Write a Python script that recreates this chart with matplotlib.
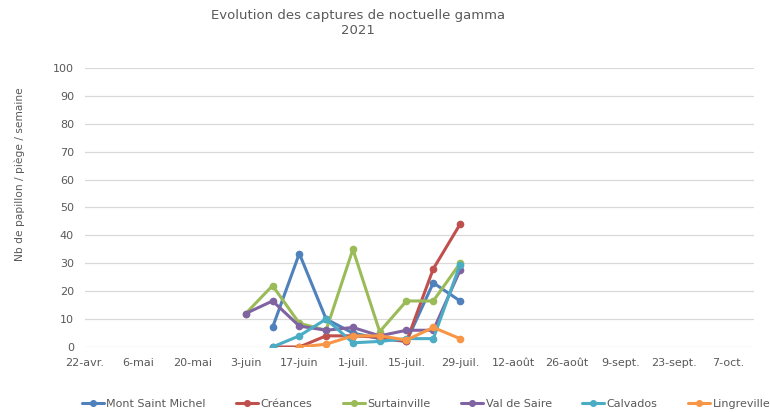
import matplotlib
matplotlib.use("Agg")
import matplotlib.pyplot as plt
import numpy as np
import pandas as pd

# weekly trap counts, 2021
dates = pd.to_datetime([
    "2021-06-03", "2021-06-10", "2021-06-17", "2021-06-24", "2021-07-01",
    "2021-07-08", "2021-07-15", "2021-07-22", "2021-07-29",
])
nan = np.nan
mont_saint_michel = [nan, 7, 33.5, 10, 5, 3, 2, 23, 16.5]
creances = [nan, 0, 0, 4, 4, 3.5, 2, 28, 44]
surtainville = [12, 22, 8.5, 6, 35, 5.5, 16.5, 16.5, 30]
val_de_saire = [12, 16.5, 7.5, 6, 7, 4, 6, 6, 27.5]
calvados = [nan, 0, 4, 10, 1.5, 2, 3, 3, 29.5]
lingreville = [nan, nan, 0, 1, 4, 4, 2.5, 7, 3]

series_names = ["Mont Saint Michel", "Créances", "Surtainville", "Val de Saire", "Calvados", "Lingreville"]
series_values = [mont_saint_michel, creances, surtainville, val_de_saire, calvados, lingreville]
colors = ["#4F81BD", "#C0504D", "#9BBB59", "#8064A2", "#4BACC6", "#F79646"]

tick_dates = pd.date_range("2021-04-22", periods=13, freq="14D")
tick_labels = ["22-avr.", "6-mai", "20-mai", "3-juin", "17-juin", "1-juil.", "15-juil.",
               "29-juil.", "12-août", "26-août", "9-sept.", "23-sept.", "7-oct."]

text_color = "#595959"
grid_color = "#D9D9D9"

fig = plt.figure(figsize=(7.7, 4.12), dpi=100)
ax = fig.add_axes([85 / 770, 1 - 347 / 412, (754 - 85) / 770, (347 - 68) / 412])

for name, vals, col in zip(series_names, series_values, colors):
    ax.plot(dates, vals, color=col, lw=2.2, marker="o", markersize=4.5, label=name,
            solid_capstyle="round")

ax.set_xlim(pd.Timestamp("2021-04-22"), pd.Timestamp("2021-04-22") + pd.Timedelta(days=174.8))
ax.set_ylim(0, 100)
ax.set_yticks(np.arange(0, 101, 10))
ax.set_xticks(tick_dates)
ax.set_xticklabels(tick_labels)

ax.grid(axis="y", color=grid_color, lw=0.9)
ax.set_axisbelow(True)
for s in ax.spines.values():
    s.set_visible(False)
ax.tick_params(length=0, colors=text_color, labelsize=8)
ax.tick_params(axis="y", pad=8)
ax.tick_params(axis="x", pad=8)

fig.text(20 / 770, 1 - 174 / 412, "Nb de papillon / piège / semaine", rotation=90,
         ha="center", va="center", color=text_color, fontsize=7.7)

fig.text(358 / 770, 1 - 15 / 412, "Evolution des captures de noctuelle gamma",
         ha="center", va="center", fontsize=9.5, color=text_color)
fig.text(358 / 770, 1 - 30 / 412, "2021", ha="center", va="center", fontsize=9.5, color=text_color)

fig.legend(loc="center", bbox_to_anchor=(426 / 770, 1 - 404 / 412), ncol=6, frameon=False,
           fontsize=8, labelcolor=text_color, handlelength=2.0, handletextpad=0.2,
           columnspacing=2.75, markerscale=0.9)

fig.savefig("out.png", dpi=100)
